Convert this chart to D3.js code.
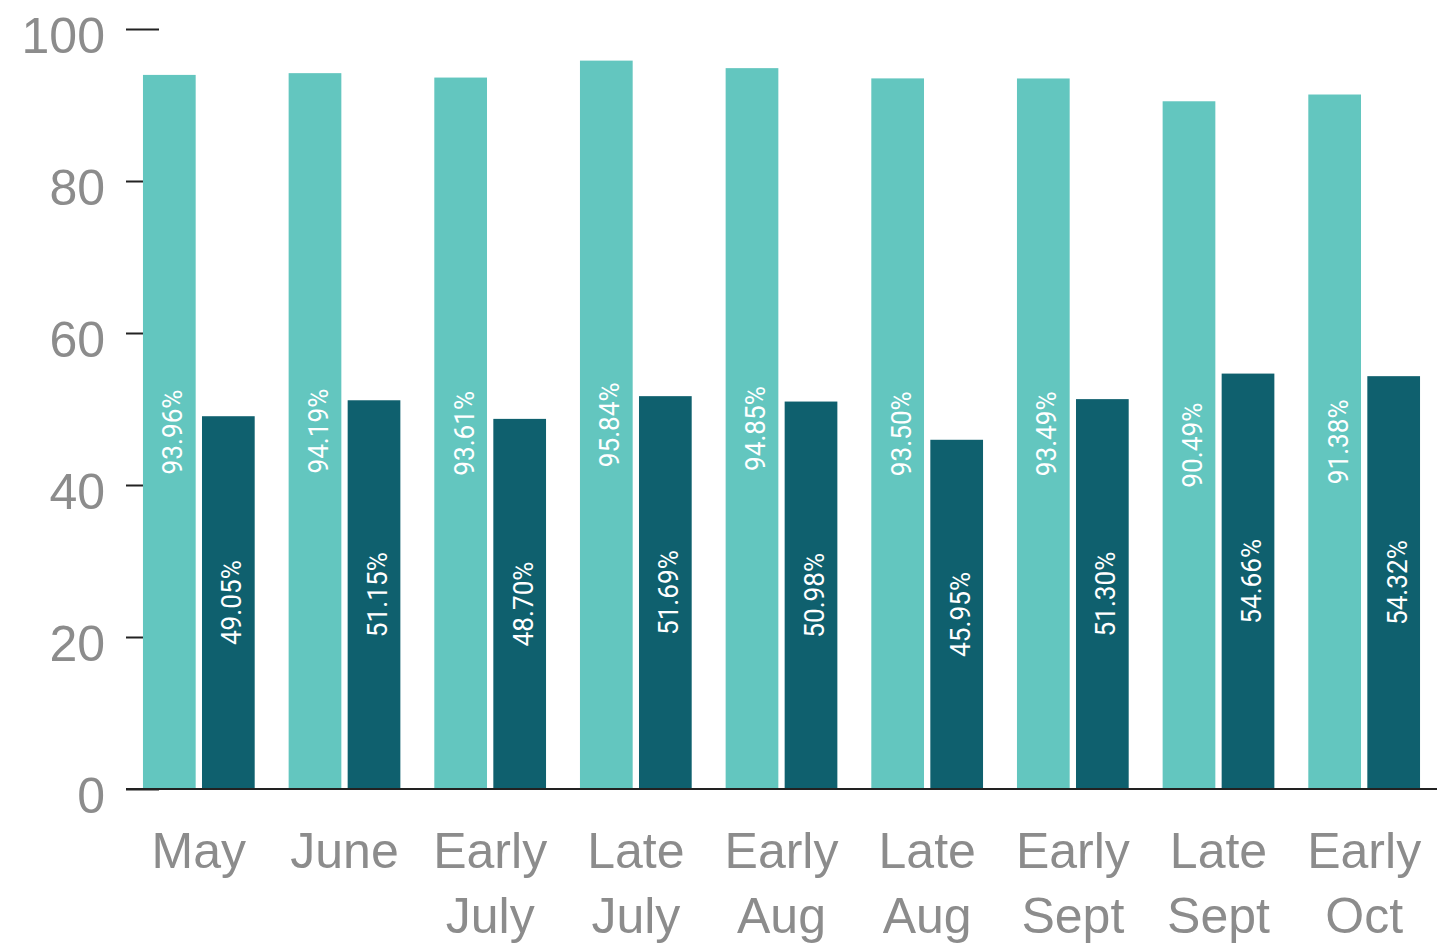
<!DOCTYPE html>
<html>
<head>
<meta charset="utf-8">
<script src="https://cdn.jsdelivr.net/npm/d3@7"></script>
<style>
  body { margin: 0; background: #fff; }
  svg { display: block; font-family: Roboto, "Noto Sans", sans-serif; }
</style>
</head>
<body>
<svg id="chart"></svg>
<script>
// categories (two-line labels)
const periods = ["May", "June", "Early July", "Late July", "Early Aug", "Late Aug", "Early Sept", "Late Sept", "Early Oct"];
const periodLines = [["May"], ["June"], ["Early", "July"], ["Late", "July"], ["Early", "Aug"], ["Late", "Aug"], ["Early", "Sept"], ["Late", "Sept"], ["Early", "Oct"]];

// series values
const lightValues = [93.96, 94.19, 93.61, 95.84, 94.85, 93.50, 93.49, 90.49, 91.38];
const darkValues = [49.05, 51.15, 48.70, 51.69, 50.98, 45.95, 51.30, 54.66, 54.32];

const yTicks = [0, 20, 40, 60, 80, 100];

const seriesKeys = ["light", "dark"];
const colors = { light: "#63c6bf", dark: "#0f606e" };

const rows = periods.map((p, i) => ({ period: p, lines: periodLines[i], light: lightValues[i], dark: darkValues[i] }));

// Dimensions
const dims = { width: 1448, height: 943, left: 126, right: 1437, top: 29, bottom: 789 };

const svg = d3.select("#chart").attr("width", dims.width).attr("height", dims.height);

// Scales
const yScale = d3.scaleLinear().domain([0, 100]).range([dims.bottom, dims.top]);
const x0 = d3.scaleBand().domain(periods).range([dims.left, dims.right]).paddingInner(0.233).paddingOuter(0.1165);
const x1 = d3.scaleBand().domain(seriesKeys).range([0, x0.bandwidth()]).paddingInner(0.107);

// Y axis (ticks drawn under the bars)
const yAxis = d3.axisLeft(yScale).tickValues(yTicks).tickSize(33).tickPadding(21);
svg.append("g")
  .attr("transform", `translate(${dims.left + 33},0)`)
  .call(yAxis)
  .call(g => g.select(".domain").remove())
  .call(g => g.selectAll(".tick line").attr("stroke", "#222").attr("stroke-width", 2))
  .call(g => g.selectAll(".tick text")
    .attr("fill", "#8c8c8c")
    .attr("font-size", 50)
    .attr("dy", "0.47em"));

// Bars
const groups = svg.append("g")
  .selectAll("g")
  .data(rows)
  .join("g")
  .attr("transform", d => `translate(${x0(d.period)},0)`);

groups.selectAll("rect")
  .data(d => seriesKeys.map(k => ({ key: k, value: d[k] })))
  .join("rect")
  .attr("x", d => x1(d.key))
  .attr("y", d => yScale(d.value))
  .attr("width", x1.bandwidth())
  .attr("height", d => yScale(0) - yScale(d.value))
  .attr("fill", d => colors[d.key]);

// Value labels, rotated inside the bars
groups.selectAll("text.value")
  .data(d => seriesKeys.map(k => ({ key: k, value: d[k] })))
  .join("text")
  .classed("value", true)
  .attr("transform", d => {
    const cx = x1(d.key) + x1.bandwidth() / 2;
    const cy = (yScale(d.value) + yScale(0)) / 2;
    return `translate(${cx},${cy}) rotate(-90)`;
  })
  .attr("text-anchor", "middle")
  .attr("dy", "0.46em")
  .attr("fill", "#fff")
  .attr("font-size", 28)
  .attr("textLength", 85)
  .attr("lengthAdjust", "spacingAndGlyphs")
  .text(d => d.value.toFixed(2) + "%");

// Zero line
svg.append("line")
  .attr("x1", dims.left)
  .attr("x2", dims.right)
  .attr("y1", yScale(0))
  .attr("y2", yScale(0))
  .attr("stroke", "#222")
  .attr("stroke-width", 2.2);

// X axis labels
const xAxis = d3.axisBottom(x0).tickSize(0).tickFormat("");
const xAxisGroup = svg.append("g")
  .attr("transform", `translate(0,${dims.bottom})`)
  .call(xAxis)
  .call(g => g.select(".domain").remove());

xAxisGroup.selectAll(".tick").each(function (d, i) {
  const t = d3.select(this).select("text")
    .attr("fill", "#8c8c8c")
    .attr("font-size", 50)
    .attr("y", 0)
    .attr("dy", null);
  t.selectAll("tspan")
    .data(rows[i].lines)
    .join("tspan")
    .attr("x", 0)
    .attr("y", (l, j) => 79 + j * 65)
    .text(l => l);
});
</script>
</body>
</html>
